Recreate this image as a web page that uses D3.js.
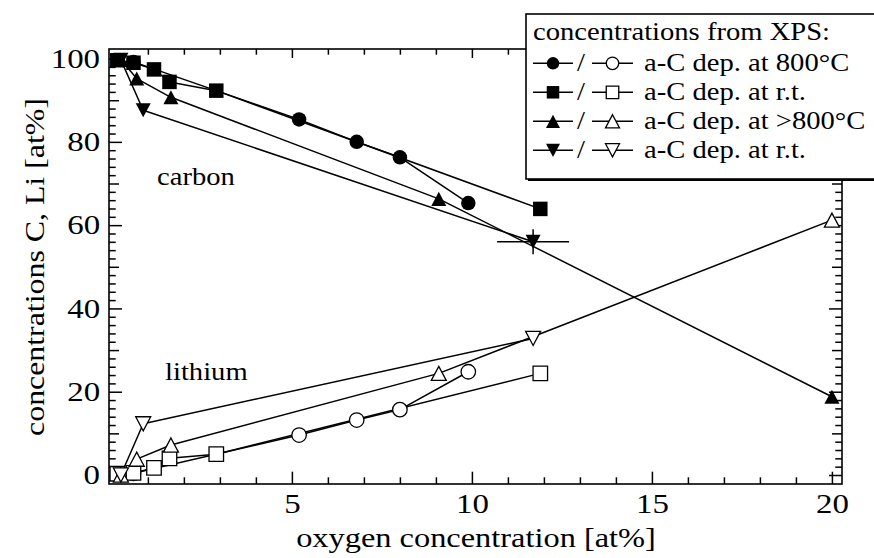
<!DOCTYPE html>
<html><head><meta charset="utf-8">
<script src="https://cdn.jsdelivr.net/npm/d3@7"></script>
<style>html,body{margin:0;padding:0;background:#fff;} svg{display:block;}</style>
</head><body>
<svg id="chart" width="874" height="558"></svg>
<script>
// XPS concentrations of carbon (filled markers) and lithium (open markers)
// versus oxygen concentration, one series per deposition condition.
const oxygenCircle  = [0.6, 5.2, 6.8, 8.0, 9.9];
const carbonCircle  = [99.2, 85.4, 80.0, 76.3, 65.3];
const lithiumCircle = [0.4, 9.6, 13.2, 15.7, 24.8];

const oxygenSquare  = [0.15, 0.6, 1.17, 1.6, 2.9, 11.9];
const carbonSquare  = [99.6, 99.0, 97.4, 94.4, 92.3, 63.9];
const lithiumSquare = [0.3, 0.5, 1.7, 4.0, 5.0, 24.4];

const oxygenUp  = [0.25, 0.69, 1.64, 9.08, 20.0];
const carbonUp  = [99.7, 95.2, 90.7, 66.3, 18.8];
const lithiumUp = [0.0, 3.8, 7.2, 24.4, 61.2];

const oxygenDown  = [0.25, 0.87, 11.7];
const carbonDown  = [99.7, 87.6, 56.0];
const lithiumDown = [0.0, 12.3, 32.8];

// uncertainty of the last carbon point of the r.t. (down triangle) series
const errOxygen = [1.0];
const errCarbon = [3.0];

const legendLabels = ["a-C dep. at 800°C", "a-C dep. at r.t.", "a-C dep. at >800°C", "a-C dep. at r.t."];
const xMajorTicks = [5, 10, 15, 20];
const yMajorTicks = [0, 20, 40, 60, 80, 100];

const FONT = '"Liberation Serif","Times New Roman",Times,serif';
const svg = d3.select("#chart");

const x = d3.scaleLinear().domain([-0.08, 20.28]).range([109, 842]);
const y = d3.scaleLinear().domain([-2.16, 102.3]).range([484, 49]);

// marker shapes, size = outer width in px
const shapeCircle = {draw(ctx, d) { const r = d / 2; ctx.moveTo(r, 0); ctx.arc(0, 0, r, 0, 2 * Math.PI); ctx.closePath(); }};
const shapeSquare = {draw(ctx, d) { const h = d / 2; ctx.rect(-h, -h, d, d); }};
const shapeUp = {draw(ctx, d) { const a = d / 2, h = d * 0.47; ctx.moveTo(0, -h); ctx.lineTo(a, h); ctx.lineTo(-a, h); ctx.closePath(); }};
const shapeDown = {draw(ctx, d) { const a = d / 2, h = d * 0.47; ctx.moveTo(0, h); ctx.lineTo(a, -h); ctx.lineTo(-a, -h); ctx.closePath(); }};

const series = [
  {o: oxygenCircle, c: carbonCircle, li: lithiumCircle, shape: shapeCircle, size: 14.5, lsize: 12.5},
  {o: oxygenSquare, c: carbonSquare, li: lithiumSquare, shape: shapeSquare, size: 14.5, lsize: 12.5},
  {o: oxygenUp, c: carbonUp, li: lithiumUp, shape: shapeUp, size: 15, lsize: 14},
  {o: oxygenDown, c: carbonDown, li: lithiumDown, shape: shapeDown, size: 15, lsize: 14}
];

// text helper with horizontal stretch
function label(parent, px, py, str, size, sx, anchor, rot) {
  const g = parent.append("g")
    .attr("transform", `translate(${px},${py})` + (rot ? ` rotate(${rot})` : "") + ` scale(${sx},1)`);
  g.append("text").attr("x", 0).attr("y", 0)
    .attr("font-family", FONT).attr("font-size", size)
    .attr("text-anchor", anchor || "start").attr("fill", "#000").text(str);
  return g;
}

// ---- axes: inward ticks on all four sides ----
const yMid = d3.range(10, 100, 20);
const yMinor = d3.range(0, 101, 2).filter(v => v % 10 !== 0);
const xMinor = d3.range(1, 21).filter(v => v % 5 !== 0);

function tickSet(axisFn, vals, len, pos, fmt) {
  const a = axisFn.tickValues(vals).tickSize(-len).tickSizeOuter(0);
  if (!fmt) a.tickFormat("");
  const g = svg.append("g").attr("transform", pos).call(a);
  g.select(".domain").remove();
  g.selectAll(".tick line").attr("stroke", "#000").attr("stroke-width", 1.5);
  return g;
}
const L = "translate(109,0)", R = "translate(842,0)", B = "translate(0,484)", T = "translate(0,49)";
tickSet(d3.axisLeft(y), yMinor, 6.7, L);
tickSet(d3.axisLeft(y), yMid, 10, L);
const yLab = tickSet(d3.axisLeft(y).tickPadding(7.3), yMajorTicks, 13, L, true);
tickSet(d3.axisRight(y), yMinor, 6.7, R);
tickSet(d3.axisRight(y), yMid, 10, R);
tickSet(d3.axisRight(y), yMajorTicks, 13, R);
tickSet(d3.axisBottom(x), xMinor, 6.7, B);
const xLab = tickSet(d3.axisBottom(x).tickPadding(10), xMajorTicks, 12.3, B, true);
tickSet(d3.axisTop(x), xMinor, 5.7, T);
tickSet(d3.axisTop(x), xMajorTicks, 9, T);

[yLab, xLab].forEach(g => g.selectAll(".tick text")
  .attr("font-family", FONT).attr("font-size", 27).attr("fill", "#000")
  .attr("transform", "scale(1.22,1)"));

// plot frame
svg.append("rect").attr("x", 109).attr("y", 49).attr("width", 733).attr("height", 435)
  .attr("fill", "none").attr("stroke", "#000").attr("stroke-width", 1.6);

// axis titles
label(svg, 476, 547, "oxygen concentration [at%]", 27, 1.2, "middle");
label(svg, 44, 267, "concentrations C, Li [at%]", 27, 1.18, "middle", -90);

// ---- series lines ----
const lineGen = (s, key) => d3.line().x(i => x(s.o[i])).y(i => y(s[key][i]))(d3.range(s.o.length));
series.forEach(s => {
  ["c", "li"].forEach(k => svg.append("path").attr("d", lineGen(s, k))
    .attr("fill", "none").attr("stroke", "#000").attr("stroke-width", 1.5).attr("stroke-linejoin", "round"));
});

// error bar on the last r.t. carbon point
{
  const i = oxygenDown.length - 1;
  const cx = x(oxygenDown[i]), cy = y(carbonDown[i]);
  svg.append("line").attr("x1", x(oxygenDown[i] - errOxygen[0])).attr("x2", x(oxygenDown[i] + errOxygen[0]))
    .attr("y1", cy).attr("y2", cy).attr("stroke", "#000").attr("stroke-width", 1.5);
  svg.append("line").attr("x1", cx).attr("x2", cx)
    .attr("y1", y(carbonDown[i] + errCarbon[0])).attr("y2", y(carbonDown[i] - errCarbon[0]))
    .attr("stroke", "#000").attr("stroke-width", 1.5);
}

// ---- markers ----
series.forEach(s => {
  const sym = d3.symbol().type(s.shape).size(s.size);
  const idx = d3.range(s.o.length);
  svg.append("g").selectAll("path.li").data(idx).join("path")
    .attr("transform", i => `translate(${x(s.o[i])},${y(s.li[i])})`)
    .attr("d", sym).attr("fill", "#fff").attr("stroke", "#000").attr("stroke-width", 1.3);
  svg.append("g").selectAll("path.c").data(idx).join("path")
    .attr("transform", i => `translate(${x(s.o[i])},${y(s.c[i])})`)
    .attr("d", sym).attr("fill", "#000");
});

// element labels
label(svg, 157, 185, "carbon", 26, 1.1);
label(svg, 165, 380, "lithium", 26, 1.1);

// ---- legend ----
const lg = svg.append("g");
lg.append("rect").attr("x", 528).attr("y", 16).attr("width", 360).attr("height", 165).attr("fill", "#000");
lg.append("rect").attr("x", 526).attr("y", 14).attr("width", 360).attr("height", 165)
  .attr("fill", "#fff").attr("stroke", "#000").attr("stroke-width", 1.6);
label(lg, 533, 39.5, "concentrations from XPS:", 26, 1.1);
series.forEach((s, r) => {
  const ly = 63.3 + 29 * r;
  const sym = d3.symbol().type(s.shape).size(s.lsize);
  lg.append("line").attr("x1", 533).attr("x2", 573).attr("y1", ly).attr("y2", ly).attr("stroke", "#000").attr("stroke-width", 1.5);
  lg.append("path").attr("transform", `translate(553,${ly})`).attr("d", sym).attr("fill", "#000");
  label(lg, 581, ly + 7.7, "/", 26, 1.1, "middle");
  lg.append("line").attr("x1", 592).attr("x2", 633).attr("y1", ly).attr("y2", ly).attr("stroke", "#000").attr("stroke-width", 1.5);
  lg.append("path").attr("transform", `translate(612.5,${ly})`).attr("d", sym)
    .attr("fill", "#fff").attr("stroke", "#000").attr("stroke-width", 1.3);
  label(lg, 644, ly + 7.7, legendLabels[r], 26, 1.1);
});
</script>
</body></html>
